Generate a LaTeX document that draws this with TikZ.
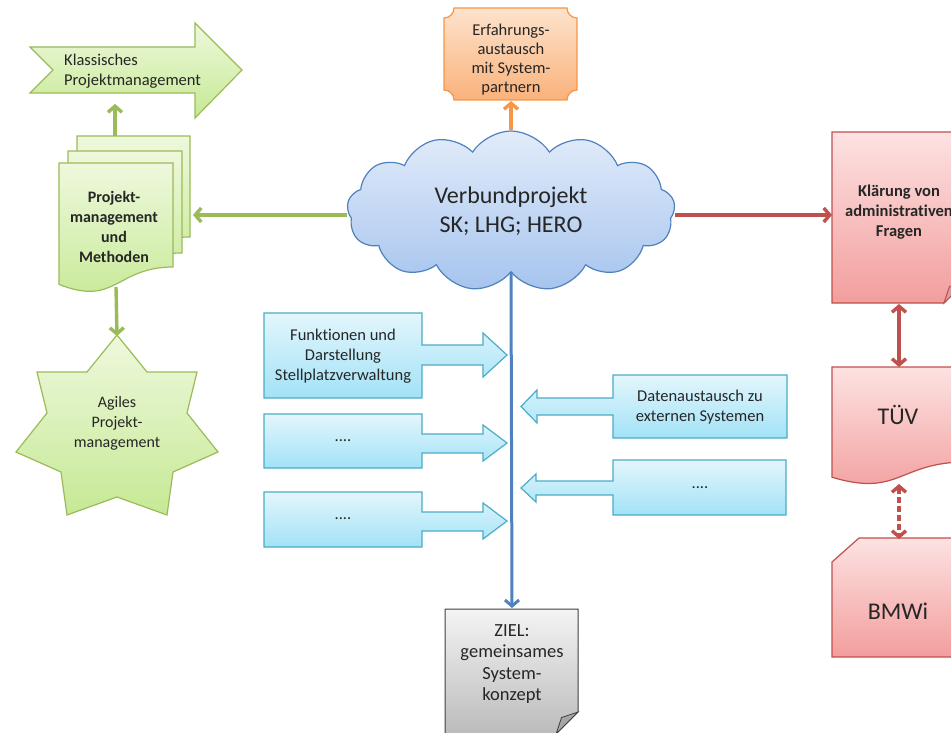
\documentclass[tikz,border=0pt]{standalone}
\usepackage{fontspec}
\setmainfont{Carlito}[Ligatures={NoCommon}]
\usetikzlibrary{shapes.symbols,arrows.meta,calc}
\definecolor{grnB}{HTML}{9BBB59}
\definecolor{grnT}{HTML}{EEF8DC}
\definecolor{grnBot}{HTML}{C6E995}
\definecolor{orgB}{HTML}{F79646}
\definecolor{orgT}{HTML}{FDE3CC}
\definecolor{orgBot}{HTML}{FAB27B}
\definecolor{bluB}{HTML}{4F81BD}
\definecolor{cldT}{HTML}{E2ECFA}
\definecolor{cldBot}{HTML}{A6C4EE}
\definecolor{redB}{HTML}{C0504D}
\definecolor{redT}{HTML}{FDE2E2}
\definecolor{redBot}{HTML}{F29E9D}
\definecolor{cyaB}{HTML}{4BACC6}
\definecolor{cyaT}{HTML}{E3F6FC}
\definecolor{cyaBot}{HTML}{A2E2F7}
\definecolor{gryT}{HTML}{F4F4F4}
\definecolor{gryBot}{HTML}{BBBBBB}
\definecolor{txtc}{HTML}{262626}
\begin{document}
\begin{tikzpicture}[x=1pt,y=-1pt,
  lbl/.style={font=\fontsize{16.5}{20}\selectfont, align=center, inner sep=0pt, text=txtc},
  blbl/.style={lbl, font=\bfseries\fontsize{16.5}{20}\selectfont},
  big/.style={lbl, font=\fontsize{24}{29}\selectfont},
  gshape/.style={draw=grnB, line width=1.2pt, top color=grnT, bottom color=grnBot},
  oshape/.style={draw=orgB, line width=1.2pt, top color=orgT, bottom color=orgBot},
  rshape/.style={draw=redB, line width=1.2pt, top color=redT, bottom color=redBot},
  cshape/.style={draw=cyaB, line width=1.2pt, top color=cyaT, bottom color=cyaBot},
  zshape/.style={draw=black!75, line width=1pt, top color=gryT, bottom color=gryBot},
  tipb/.tip={Straight Barb[length=6pt,width=14pt]},
  gconn/.style={draw=grnB, line width=3.4pt, -tipb},
  oconn/.style={draw=orgB, line width=3.4pt, -tipb},
  rconn/.style={draw=redB, line width=3.4pt, -tipb},
  rdbl/.style={draw=redB, line width=3.4pt, tipb-tipb},
  bconn/.style={draw=bluB, line width=3pt, -tipb},
]
\useasboundingbox (0,0) rectangle (951,733);

% ---------- Klassisches Projektmanagement (notched arrow)
\path[gshape] (30,47) -- (195,47) -- (195,23) -- (242,70) -- (195,118) -- (195,93)
  -- (30,93) -- (53,70) -- cycle;
\node[lbl, align=left, anchor=west] (klass) at (64,71) {Klassisches\\Projektmanagement};
\coordinate (klassIn) at (115,104);

% ---------- Multi-document stack
\path[gshape] (77,136) -- (190,136) -- (190,237) .. controls (133.5,237) and (133.5,275.5) .. (77,253.7) -- cycle;
\path[gshape] (68,151) -- (182,151) -- (182,253) .. controls (125,253) and (125,291.6) .. (68,269.6) -- cycle;
\path[gshape] (59,163) -- (173,163) -- (173,267) .. controls (116,267) and (116,307) .. (59,284.4) -- cycle;
\node[blbl, font=\bfseries\fontsize{16}{20}\selectfont] (stack) at (114,227) {Projekt-\\management\\und\\Methoden};
\coordinate (stackTop) at (115,136);
\coordinate (stackRight) at (193,215);
\coordinate (stackBot) at (116,287);

% ---------- Star (7 points)
\path[gshape] (117,335) -- (147,372) -- (197,372) -- (187,413) -- (218,452) -- (173,472)
  -- (167,515) -- (117,497) -- (67,515) -- (61,472) -- (16,452) -- (47,413)
  -- (37,372) -- (87,372) -- cycle;
\node[lbl, font=\fontsize{16}{20}\selectfont] (star) at (117,423) {Agiles\\Projekt-\\management};
\coordinate (starTop) at (117,336);

% ---------- Plaque (orange)
\path[oshape] (454,8) -- (567,8) .. controls (567,13.5) and (571.5,18) .. (577,18)
  -- (577,90) .. controls (571.5,90) and (567,94.5) .. (567,100)
  -- (454,100) .. controls (454,94.5) and (449.5,90) .. (444,90)
  -- (444,18) .. controls (449.5,18) and (454,13.5) .. (454,8) -- cycle;
\node[lbl, font=\fontsize{16.5}{19}\selectfont] (plaque) at (511,60) {Erfahrungs-\\austausch\\mit System-\\partnern};
\coordinate (plaqueBot) at (511,101);

% ---------- Cloud
\node[cloud, draw=bluB, line width=1.2pt, top color=cldT, bottom color=cldBot,
  cloud puffs=13, cloud puff arc=115, aspect=2, minimum width=328pt, minimum height=160pt,
  inner sep=0pt, align=center, font=\fontsize{24}{29}\selectfont, text=txtc] (cloud) at (511,211)
  {Verbundprojekt\\SK; LHG; HERO};

% ---------- Klärung (folded corner)
\path[rshape] (832,132) -- (966,132) -- (966,281) -- (944,303) -- (832,303) -- cycle;
\path[draw=redB, line width=1pt, fill=redB!55] (944,303) -- (966,281) -- (949.5,286.5) -- cycle;
\node[blbl] (klar) at (899,212) {Kl\"arung von\\administrativen\\Fragen};
\coordinate (klarIn) at (832,215);
\coordinate (klarBot) at (899,304);

% ---------- TÜV (document)
\path[rshape] (832,367) -- (966,367) -- (966,462) .. controls (899,462) and (899,497.6) .. (832,477.2) -- cycle;
\node[big] (tuev) at (898,415) {TÜV};
\coordinate (tuevTop) at (899,367);
\coordinate (tuevBot) at (899,484);

% ---------- BMWi (snipped corner)
\path[rshape] (859,538) -- (966,538) -- (966,657) -- (832,657) -- (832,562) -- cycle;
\node[big] (bmwi) at (898,611) {BMWi};
\coordinate (bmwiTop) at (899,539);

% ---------- ZIEL (folded corner)
\path[zshape] (445,609) -- (578,609) -- (578,712) -- (556,734) -- (445,734) -- cycle;
\path[draw=black!75, line width=0.8pt, fill=black!35] (556,734) -- (578,712) -- (561.5,717.5) -- cycle;
\node[lbl, font=\fontsize{18.5}{21.5}\selectfont] (ziel) at (512,664) {ZIEL:\\gemeinsames\\System-\\konzept};
\coordinate (zielTop) at (512,608);

% ---------- Connectors
\draw[gconn] (stackTop) -- (klassIn);
\draw[gconn] (cloud.west |- stackRight) -- (stackRight);
\draw[gconn] (stackBot) -- (starTop);
\draw[oconn] (cloud.north) -- (plaqueBot);
\draw[rconn] (cloud.east |- klarIn) -- (klarIn);
\draw[rdbl] (klarBot) -- (tuevTop);
\draw[rdbl, dash pattern=on 6pt off 3pt] (tuevBot) -- (bmwiTop);
\draw[bconn] (cloud.south) -- (zielTop);

% ---------- Left callouts (arrow to the right)
\path[cshape] (264,313) -- (422,313) -- (422,345) -- (483,345) -- (483,333) -- (507,355)
  -- (483,377) -- (483,365) -- (422,365) -- (422,398) -- (264,398) -- cycle;
\node[lbl] (fkt) at (343,356) {Funktionen und\\Darstellung\\Stellplatzverwaltung};

\path[cshape] (264,414) -- (422,414) -- (422,434) -- (483,434) -- (483,425) -- (507,443)
  -- (483,461) -- (483,453) -- (422,453) -- (422,468) -- (264,468) -- cycle;
\node[lbl] (lb2) at (343,441) {....};

\path[cshape] (264,492) -- (422,492) -- (422,512) -- (483,512) -- (483,503) -- (507,521)
  -- (483,539) -- (483,531) -- (422,531) -- (422,547) -- (264,547) -- cycle;
\node[lbl] (lb3) at (343,519) {....};

% ---------- Right callouts (arrow to the left)
\path[cshape] (787,375) -- (613,375) -- (613,398) -- (537,398) -- (537,390) -- (521,406.5)
  -- (537,423) -- (537,415) -- (613,415) -- (613,438) -- (787,438) -- cycle;
\node[lbl] (dat) at (700,407) {Datenaustausch zu\\externen Systemen};

\path[cshape] (786,460) -- (613,460) -- (613,481) -- (536,481) -- (536,474) -- (521,488)
  -- (536,502) -- (536,495) -- (613,495) -- (613,515) -- (786,515) -- cycle;
\node[lbl] (rb2) at (700,488) {....};
\end{tikzpicture}
\end{document}
